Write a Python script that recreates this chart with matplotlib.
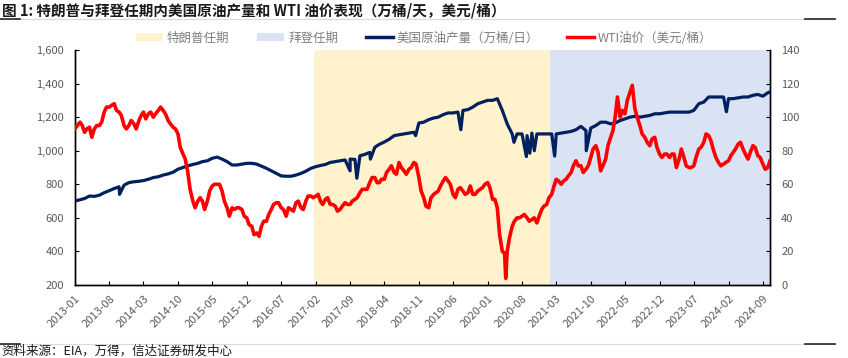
import matplotlib
matplotlib.use("Agg")
import matplotlib.pyplot as plt
from matplotlib.patches import Patch
from matplotlib.lines import Line2D
from matplotlib.ticker import FuncFormatter, MultipleLocator
import pandas as pd

plt.rcParams['font.family'] = ['Noto Sans CJK SC', 'DejaVu Sans']

# monthly points, 2013-01 .. 2024-10
months = pd.date_range("2013-01-01", "2024-10-01", freq="MS")
mid_months = months + pd.Timedelta(days=14)

# US crude production, 万桶/日 (start of month)
production = [
    700, 708, 715, 730, 728, 735, 750, 762, 775, 785, 795, 810,
    815, 818, 822, 830, 840, 845, 855, 862, 872, 890, 900, 910,
    918, 925, 935, 940, 955, 962, 950, 935, 915, 915, 920, 925,
    925, 920, 908, 895, 880, 865, 850, 848, 848, 855, 865, 878,
    895, 905, 912, 918, 930, 935, 940, 945, 950, 948, 970, 978,
    990, 1020, 1038, 1052, 1068, 1090, 1095, 1100, 1105, 1110, 1165, 1170,
    1185, 1195, 1200, 1215, 1225, 1225, 1230, 1240, 1245, 1260, 1280, 1290,
    1300, 1300, 1310, 1240, 1160, 1100, 1100, 1100, 1090, 1105, 1100, 1100,
    1100, 1100, 1100, 1105, 1110, 1115, 1125, 1145, 1120, 1135, 1150, 1170,
    1170, 1160, 1165, 1180, 1190, 1200, 1205, 1200, 1205, 1210, 1220, 1220,
    1225, 1230, 1230, 1230, 1230, 1230, 1240, 1280, 1290, 1320, 1320, 1320,
    1320, 1310, 1310, 1315, 1320, 1320, 1330, 1335, 1325, 1345,
]

# single weeks: outages (hurricanes, freezes) and the last reading
week_dates = ["2013-10-04", "2017-09-01", "2017-10-13", "2018-01-05", "2018-10-12",
              "2019-07-19", "2020-06-12", "2020-08-28", "2020-09-18", "2020-10-16",
              "2021-02-19", "2021-09-03", "2024-01-19", "2024-10-15"]
week_vals = [740, 880, 836, 950, 1090, 1125, 1050, 965, 985, 1000, 968, 1000, 1232, 1350]

# WTI, 美元/桶: start of month / mid month
wti = [
    93, 97, 91, 94, 93, 95, 103, 106, 108, 103, 95, 95,
    96, 98, 103, 102, 100, 104, 104, 98, 94, 90, 78, 67,
    50, 50, 50, 50, 59, 60, 56, 46, 46, 46, 45, 40,
    35, 31, 35, 38, 45, 49, 46, 41, 45, 49, 46, 50,
    53, 53, 50, 51, 48, 47, 45, 49, 48, 51, 55, 57,
    61, 64, 61, 63, 69, 67, 73, 68, 69, 73, 64, 52,
    46, 54, 56, 62, 62, 54, 57, 56, 55, 54, 56, 58,
    61, 51, 46, 20, 20, 35, 40, 41, 40, 39, 37, 45,
    48, 54, 63, 60, 63, 67, 74, 71, 69, 76, 83, 68,
    75, 88, 100, 100, 102, 115, 105, 95, 88, 83, 88, 78,
    78, 76, 78, 75, 76, 70, 71, 81, 85, 89, 80, 73,
    72, 74, 79, 84, 81, 75, 83, 77, 72, 70,
]
wti_mid = [
    95, 95, 93, 88, 95, 97, 106, 107, 104, 101, 93, 98,
    93, 101, 99, 103, 102, 106, 102, 96, 93, 82, 75, 57,
    46, 52, 45, 56, 60, 60, 50, 41, 45, 46, 41, 36,
    30, 29, 38, 42, 48, 49, 45, 46, 44, 50, 45, 53,
    52, 54, 48, 52, 48, 44, 47, 48, 50, 52, 57, 57,
    64, 61, 63, 67, 71, 66, 70, 66, 70, 72, 56, 47,
    52, 55, 59, 64, 60, 52, 58, 54, 59, 54, 57, 60,
    58, 51, 30, 19, 28, 38, 40, 42, 38, 40, 41, 47,
    52, 59, 62, 62, 65, 71, 71, 67, 71, 81, 79, 71,
    83, 92, 112, 104, 110, 119, 100, 90, 85, 87, 82, 76,
    78, 78, 70, 81, 71, 70, 76, 82, 90, 86, 76, 71,
    73, 77, 81, 85, 78, 79, 82, 76, 69, 74,
]
spike_dates = ["2020-04-22", "2020-03-25"]
spike_vals = [4, 24]

trump_term = ("2017-01-20", "2021-01-20")
biden_term = ("2021-01-20", "2024-10-15")

tick_dates = pd.date_range("2013-01-01", "2024-09-01", freq="7MS")

prod = pd.concat([pd.Series(production, index=months),
                  pd.Series(week_vals, index=pd.to_datetime(week_dates))]).sort_index()
oil = pd.concat([pd.Series(wti, index=months),
                 pd.Series(wti_mid, index=mid_months),
                 pd.Series(spike_vals, index=pd.to_datetime(spike_dates))]).sort_index()

navy = "#002060"
red = "#FF0000"
gray = "#595959"

fig = plt.figure(figsize=(8.48, 3.58), dpi=100)
ax = fig.add_axes([75 / 848, 1 - 285 / 358, 695 / 848, 235 / 358])
ax2 = ax.twinx()

ax.axvspan(pd.Timestamp(trump_term[0]), pd.Timestamp(trump_term[1]), color="#FFF2CC", lw=0, zorder=0)
ax.axvspan(pd.Timestamp(biden_term[0]), pd.Timestamp(biden_term[1]), color="#DAE3F3", lw=0, zorder=0)

ax.plot(prod.index, prod.values, color=navy, lw=2.3, zorder=3)
ax2.plot(oil.index, oil.values, color=red, lw=2.6, zorder=3)

ax.set_xlim(months[0], pd.Timestamp(biden_term[1]))
ax.set_ylim(200, 1600)
ax2.set_ylim(0, 140)
ax.yaxis.set_major_locator(MultipleLocator(200))
ax2.yaxis.set_major_locator(MultipleLocator(20))
ax.yaxis.set_major_formatter(FuncFormatter(lambda v, p: f"{v:,.0f}"))

ax.set_xticks(tick_dates)
ax.set_xticklabels([d.strftime("%Y-%m") for d in tick_dates], rotation=45,
                   ha="right", va="top", rotation_mode="anchor")

for a in (ax, ax2):
    a.spines["top"].set_visible(False)
    for s in ("left", "right", "bottom"):
        a.spines[s].set_color("#000000")
        a.spines[s].set_linewidth(1.0)
    a.tick_params(direction="in", length=3, width=0.8, colors="#000000",
                  labelcolor=gray, labelsize=8)
ax.tick_params(axis="x", pad=6)
ax.tick_params(axis="y", pad=8)
ax2.tick_params(axis="y", pad=8)

handles = [Patch(facecolor="#FFF2CC", edgecolor="none"),
           Patch(facecolor="#DAE3F3", edgecolor="none"),
           Line2D([], [], color=navy, lw=2.5),
           Line2D([], [], color=red, lw=2.5)]
labels = ["特朗普任期", "拜登任期", "美国原油产量（万桶/日）", "WTI油价（美元/桶）"]
fig.legend(handles, labels, loc="center", bbox_to_anchor=(0.5, 1 - 38 / 358),
           ncol=4, frameon=False, fontsize=9, labelcolor="#7F7F7F",
           handlelength=2.2, handleheight=0.6, handletextpad=0.3, columnspacing=2.2)

fig.text(0.002, 1 - 10 / 358, "图 1: 特朗普与拜登任期内美国原油产量和 WTI 油价表现（万桶/天，美元/桶）",
         fontsize=10.5, fontweight="bold", color="#1a1a1a", va="center", ha="left")
fig.text(0.002, 1 - 351 / 358, "资料来源：EIA，万得，信达证券研发中心",
         fontsize=9, color="#1a1a1a", va="center", ha="left", style="italic")

for yy in (19, 344):
    y = 1 - yy / 358
    fig.add_artist(Line2D([0, 835 / 848], [y, y], color="#D9D9D9", lw=0.8))
    fig.add_artist(Line2D([0, 20 / 848], [y, y], color="#262626", lw=1.2))
    fig.add_artist(Line2D([805 / 848, 835 / 848], [y, y], color="#262626", lw=1.2))

fig.savefig("out.png", dpi=100)
